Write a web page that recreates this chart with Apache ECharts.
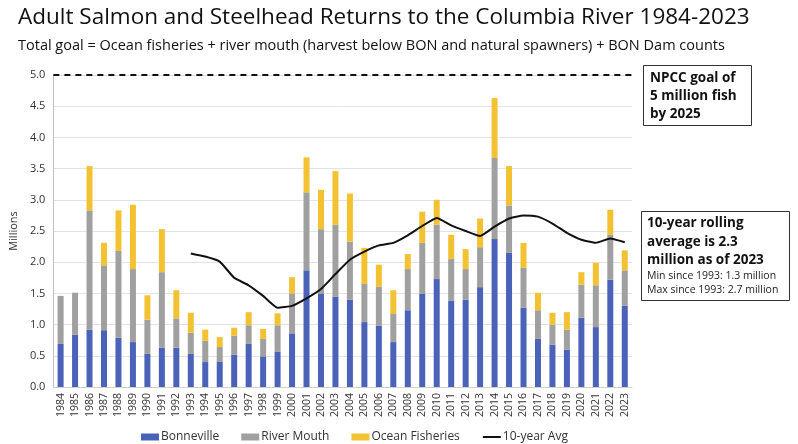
<!DOCTYPE html>
<html>
<head>
<meta charset="utf-8">
<script src="https://cdn.jsdelivr.net/npm/echarts@6/dist/echarts.min.js"></script>
<style>
  html, body { margin: 0; padding: 0; background: #fff; }
  #chart { width: 798px; height: 444px; }
</style>
</head>
<body>
<div id="chart"></div>
<script>
// years on the x axis
var years = [];
for (var y = 1984; y <= 2023; y++) { years.push(String(y)); }

// millions of fish
var bonneville = [0.69, 0.84, 0.92, 0.91, 0.79, 0.72, 0.53, 0.63, 0.63, 0.53,
                  0.40, 0.41, 0.52, 0.69, 0.49, 0.57, 0.86, 1.87, 1.49, 1.45,
                  1.40, 1.04, 0.98, 0.72, 1.23, 1.49, 1.73, 1.38, 1.40, 1.60,
                  2.37, 2.15, 1.27, 0.77, 0.68, 0.60, 1.11, 0.96, 1.72, 1.30];
var riverMouth = [0.77, 0.67, 1.91, 1.04, 1.39, 1.17, 0.55, 1.21, 0.47, 0.34,
                  0.34, 0.23, 0.30, 0.30, 0.28, 0.42, 0.64, 1.25, 1.04, 1.15,
                  0.93, 0.61, 0.63, 0.45, 0.66, 0.82, 0.87, 0.67, 0.49, 0.64,
                  1.30, 0.76, 0.64, 0.46, 0.32, 0.32, 0.53, 0.67, 0.72, 0.57];
var oceanFisheries = [0, 0, 0.71, 0.36, 0.65, 1.03, 0.39, 0.69, 0.45, 0.32,
                      0.18, 0.16, 0.13, 0.21, 0.16, 0.19, 0.26, 0.56, 0.63, 0.86,
                      0.77, 0.58, 0.35, 0.38, 0.24, 0.50, 0.40, 0.39, 0.32, 0.46,
                      0.96, 0.63, 0.40, 0.28, 0.19, 0.28, 0.20, 0.36, 0.40, 0.32];
var tenYearAvg = [null, null, null, null, null, null, null, null, null, 2.14,
                  2.09, 2.01, 1.75, 1.63, 1.46, 1.27, 1.30, 1.42, 1.57, 1.81,
                  2.04, 2.17, 2.27, 2.31, 2.43, 2.58, 2.71, 2.59, 2.50, 2.42,
                  2.57, 2.70, 2.75, 2.73, 2.62, 2.47, 2.36, 2.31, 2.38, 2.32];
var goal = 5.0;

var fontMain = '"Open Sans", "Noto Sans", sans-serif';

var myChart = echarts.init(document.getElementById('chart'));

var option = {
  backgroundColor: '#fff',
  animation: false,
  title: {
    text: 'Adult Salmon and Steelhead Returns to the Columbia River 1984-2023',
    subtext: 'Total goal = Ocean fisheries + river mouth (harvest below BON and natural spawners) + BON Dam counts',
    left: 13,
    top: 1,
    itemGap: 9,
    textStyle: { fontFamily: fontMain, fontSize: 22.5, fontWeight: 'normal', color: '#111' },
    subtextStyle: { fontFamily: fontMain, fontSize: 14.5, color: '#111' }
  },
  legend: {
    left: 136,
    top: 426,
    itemWidth: 18,
    itemHeight: 7,
    itemGap: 22,
    textStyle: { fontFamily: fontMain, fontSize: 12, color: '#333', padding: [0, 0, 0, -3] },
    data: [
      { name: 'Bonneville', icon: 'rect' },
      { name: 'River Mouth', icon: 'rect' },
      { name: 'Ocean Fisheries', icon: 'rect' },
      { name: '10-year Avg', itemStyle: { opacity: 0 } }
    ]
  },
  grid: { left: 48, right: 166, top: 75, bottom: 57 },
  xAxis: {
    type: 'category',
    data: years,
    axisLine: { lineStyle: { color: '#d0d0d0' } },
    axisTick: { show: false },
    axisLabel: { rotate: 90, interval: 0, fontSize: 10.5, color: '#333', fontFamily: fontMain, margin: 6 }
  },
  yAxis: {
    type: 'value',
    min: 0,
    max: 5,
    interval: 0.5,
    name: 'Millions',
    nameLocation: 'middle',
    nameGap: 33,
    nameTextStyle: { fontSize: 11, color: '#333', fontFamily: fontMain },
    axisLine: { show: true, lineStyle: { color: '#bfbfbf' } },
    axisLabel: { fontSize: 11, color: '#333', fontFamily: fontMain, formatter: function (v) { return v.toFixed(1); } },
    splitLine: { lineStyle: { color: '#e3e3e3' } }
  },
  series: [
    {
      name: 'Bonneville', type: 'bar', stack: 'total', barWidth: 6,
      itemStyle: { color: '#4a62b8' }, data: bonneville,
      markLine: {
        symbol: 'none', silent: true, label: { show: false },
        lineStyle: { color: '#111', type: [6, 5], width: 2 },
        data: [{ yAxis: goal }]
      }
    },
    {
      name: 'River Mouth', type: 'bar', stack: 'total', barWidth: 6,
      itemStyle: { color: '#a0a0a0' }, data: riverMouth
    },
    {
      name: 'Ocean Fisheries', type: 'bar', stack: 'total', barWidth: 6,
      itemStyle: { color: '#f2c232' }, data: oceanFisheries
    },
    {
      name: '10-year Avg', type: 'line', data: tenYearAvg,
      symbol: 'none', smooth: 0.15,
      itemStyle: { color: '#111' },
      lineStyle: { color: '#111', width: 2 }
    }
  ],
  graphic: [
    {
      type: 'rect', left: 643, top: 65,
      shape: { width: 108, height: 60 },
      style: { fill: '#fff', stroke: '#333', lineWidth: 1 }
    },
    {
      type: 'text', left: 650, top: 69,
      style: {
        text: 'NPCC goal of\n5 million fish\nby 2025',
        font: 'bold 13.5px ' + fontMain, fill: '#111', lineHeight: 18
      }
    },
    {
      type: 'rect', left: 641, top: 211,
      shape: { width: 148, height: 89 },
      style: { fill: '#fff', stroke: '#333', lineWidth: 1 }
    },
    {
      type: 'text', left: 647, top: 214,
      style: {
        text: '10-year rolling\naverage is 2.3\nmillion as of 2023',
        font: 'bold 13.5px ' + fontMain, fill: '#111', lineHeight: 18.5
      }
    },
    {
      type: 'text', left: 647, top: 269,
      style: {
        text: 'Min since 1993: 1.3 million\nMax since 1993: 2.7 million',
        font: '10.5px ' + fontMain, fill: '#222', lineHeight: 14
      }
    }
  ]
};

myChart.setOption(option);
</script>
</body>
</html>
